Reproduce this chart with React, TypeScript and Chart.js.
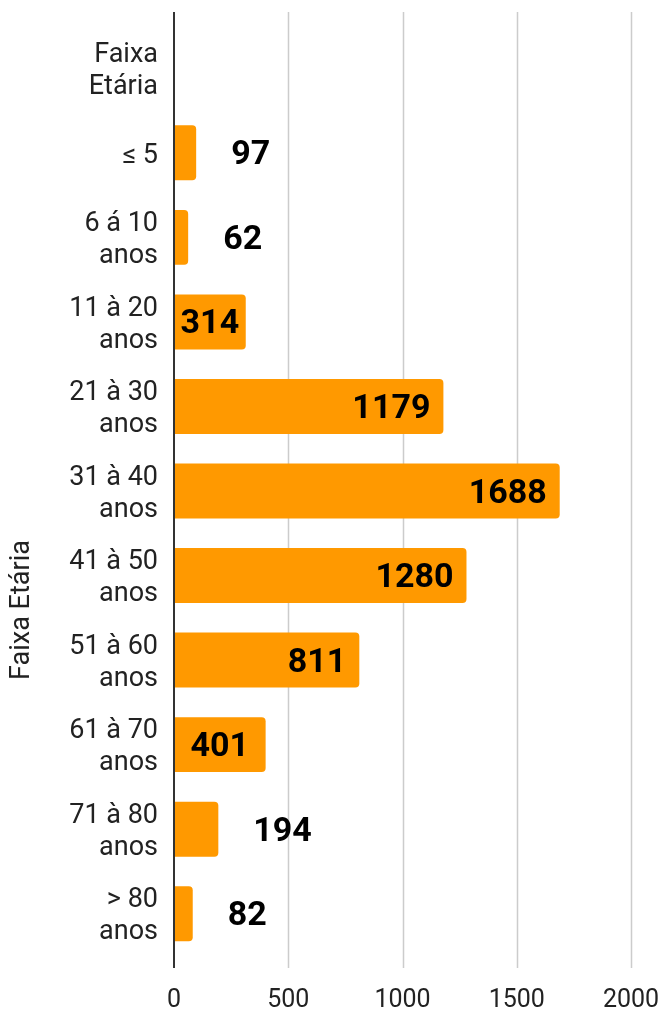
import React, { useEffect, useRef } from "react";
import { Chart, registerables } from "chart.js";

Chart.register(...registerables);

const categories: (string | string[])[] = [
  ["Faixa", "Etária"],
  "≤ 5",
  ["6 á 10", "anos"],
  ["11 à 20", "anos"],
  ["21 à 30", "anos"],
  ["31 à 40", "anos"],
  ["41 à 50", "anos"],
  ["51 à 60", "anos"],
  ["61 à 70", "anos"],
  ["71 à 80", "anos"],
  ["> 80", "anos"],
];

const values: (number | null)[] = [null, 97, 62, 314, 1179, 1688, 1280, 811, 401, 194, 82];

const xTicks = [0, 500, 1000, 1500, 2000];
const axisTitle = "Faixa Etária";

const FONT = "Roboto, 'Noto Sans', sans-serif";

const gridPlugin = {
  id: "customGrid",
  beforeDatasetsDraw(chart: any) {
    const { ctx, chartArea, scales } = chart;
    const x = scales.x;
    const top = chartArea.top - 14;
    const bottom = chartArea.bottom + 12;
    ctx.save();
    xTicks.forEach((t) => {
      if (t === 0) return;
      const px = Math.round(x.getPixelForValue(t)) + 0.5;
      ctx.strokeStyle = "#cccccc";
      ctx.lineWidth = 1.5;
      ctx.beginPath();
      ctx.moveTo(px, top);
      ctx.lineTo(px, bottom);
      ctx.stroke();
    });
    ctx.restore();
  },
  afterDatasetsDraw(chart: any) {
    const { ctx, chartArea, scales } = chart;
    const x = scales.x;
    const y = scales.y;
    const top = chartArea.top - 14;
    const bottom = chartArea.bottom + 12;
    ctx.save();
    const px = x.getPixelForValue(0);
    ctx.strokeStyle = "#333333";
    ctx.lineWidth = 2;
    ctx.beginPath();
    ctx.moveTo(px, top);
    ctx.lineTo(px, bottom);
    ctx.stroke();

    // y category labels
    ctx.font = `27px ${FONT}`;
    ctx.fillStyle = "#222222";
    ctx.textAlign = "right";
    ctx.textBaseline = "middle";
    const lh = 32;
    categories.forEach((c, i) => {
      const lines = Array.isArray(c) ? c : [c];
      const cy = y.getPixelForValue(i) + 3;
      const start = cy - ((lines.length - 1) * lh) / 2;
      lines.forEach((ln, j) => {
        ctx.fillText(ln, chartArea.left - 16, start + j * lh);
      });
    });

    // value labels
    const meta = chart.getDatasetMeta(0);
    ctx.font = `bold 34px ${FONT}`;
    ctx.fillStyle = "#000000";
    ctx.textBaseline = "middle";
    meta.data.forEach((bar: any, i: number) => {
      const v = values[i];
      if (v === null || v === undefined) return;
      const p = bar.getProps(["x", "y", "base"], true);
      const w = p.x - p.base;
      const label = String(v);
      const tw = ctx.measureText(label).width;
      const ty = p.y + 3;
      if (w < tw + 6) {
        ctx.textAlign = "left";
        ctx.fillText(label, p.x + 35, ty);
      } else if (w < tw * 2) {
        ctx.textAlign = "center";
        ctx.fillText(label, (p.x + p.base) / 2, ty);
      } else {
        ctx.textAlign = "right";
        ctx.fillText(label, p.x - 13, ty);
      }
    });

    // y axis title
    ctx.save();
    ctx.translate(22, 610);
    ctx.rotate(-Math.PI / 2);
    ctx.font = `27px ${FONT}`;
    ctx.fillStyle = "#222222";
    ctx.textAlign = "center";
    ctx.textBaseline = "middle";
    ctx.fillText(axisTitle, 0, 0);
    ctx.restore();

    ctx.restore();
  },
};

function zeroPad(scale: any) {
  scale.paddingTop = 0;
  scale.paddingBottom = 0;
  scale.paddingLeft = 0;
  scale.paddingRight = 0;
}

export default function App() {
  const ref = useRef<HTMLCanvasElement | null>(null);

  useEffect(() => {
    if (!ref.current) return;
    const chart = new Chart(ref.current, {
      type: "bar",
      data: {
        labels: categories as any,
        datasets: [
          {
            data: values as any,
            backgroundColor: "#ff9900",
            borderRadius: 4,
            borderSkipped: "start",
            categoryPercentage: 1,
            barPercentage: 0.65,
          },
        ],
      },
      options: {
        indexAxis: "y",
        animation: false,
        responsive: false,
        devicePixelRatio: 1,
        layout: { padding: { top: 26, right: 33, bottom: 0, left: 0 } },
        plugins: {
          legend: { display: false },
          tooltip: { enabled: false },
        },
        scales: {
          x: {
            type: "linear",
            min: 0,
            max: 2000,
            afterBuildTicks(scale: any) {
              scale.ticks = xTicks.map((v) => ({ value: v }));
            },
            afterFit(scale: any) {
              scale.height = 53;
              zeroPad(scale);
            },
            grid: { display: false, drawTicks: false },
            border: { display: false },
            ticks: {
              padding: 30,
              color: "#222222",
              font: { family: FONT, size: 25 },
              callback: (v: any) => String(v),
            },
          },
          y: {
            type: "category",
            afterFit(scale: any) {
              scale.width = 174;
              zeroPad(scale);
            },
            grid: { display: false, drawTicks: false },
            border: { display: false },
            ticks: {
              display: false,
              font: { family: FONT, size: 27, lineHeight: 1.2 },
            },
          },
        },
      },
      plugins: [gridPlugin],
    });
    return () => chart.destroy();
  }, []);

  return (
    <div style={{ position: "absolute", left: 0, top: 0, width: 664, height: 1009, background: "#fff" }}>
      <canvas ref={ref} width={664} height={1009} style={{ display: "block" }} />
    </div>
  );
}
